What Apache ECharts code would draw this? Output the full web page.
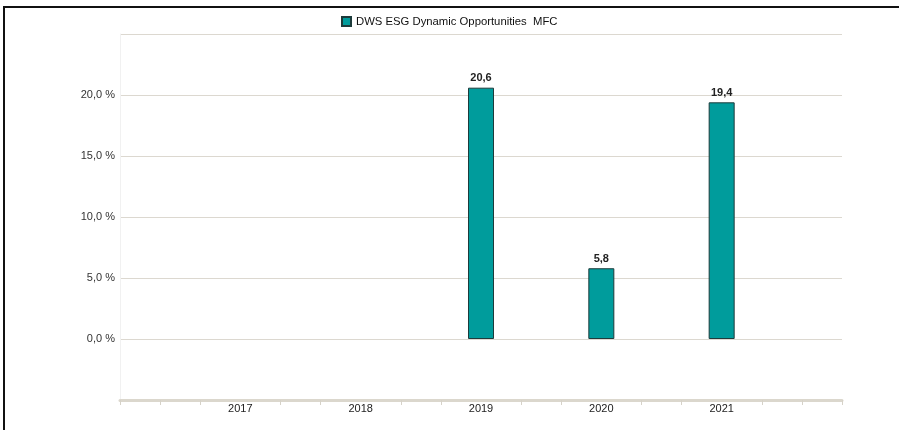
<!DOCTYPE html>
<html>
<head>
<meta charset="utf-8">
<script src="https://cdn.jsdelivr.net/npm/echarts@6/dist/echarts.min.js"></script>
<style>
html,body{margin:0;padding:0;background:#fff;}
#wrap{position:absolute;left:3px;top:6px;width:896px;height:424px;box-sizing:border-box;border-top:2px solid #111;border-left:2px solid #111;}
#chart{position:absolute;left:0;top:0;width:899px;height:430px;}
</style>
</head>
<body>
<div id="chart"></div>
<div id="wrap"></div>
<script>
const seriesName = 'DWS ESG Dynamic Opportunities  MFC';
const years = [2017, 2018, 2019, 2020, 2021];
const values = [null, null, 20.6, 5.8, 19.4];
const yTickLabels = [0, 5, 10, 15, 20];

const xMin = years[0] - 1, xMax = years[years.length - 1] + 1;
const minorTicks = [];
for (let y = xMin; y < xMax; y++) {
  for (let k = 0; k < 3; k++) {
    const v = y + k / 3;
    if (k === 0 && years.indexOf(y) >= 0) continue;
    minorTicks.push(v);
  }
}
minorTicks.push(xMax);

const chart = echarts.init(document.getElementById('chart'));
const fmt = v => v.toFixed(1).replace('.', ',');
chart.setOption({
  animation: false,
  textStyle: { fontFamily: 'Liberation Sans, Arial, sans-serif' },
  legend: {
    top: 11, left: 336,
    itemWidth: 9, itemHeight: 9, itemGap: 5,
    icon: 'rect',
    textStyle: { fontSize: 11.3, color: '#111', fontFamily: 'Liberation Sans, Arial, sans-serif' },
    data: [seriesName]
  },
  grid: { left: 120, right: 57, top: 34, bottom: 30, containLabel: false },
  xAxis: {
    type: 'value', min: xMin, max: xMax, interval: 1,
    splitLine: { show: false },
    axisLine: { show: true, onZero: false, lineStyle: { color: '#dbd7cd', width: 3 } },
    axisTick: { show: true, customValues: minorTicks, length: 5, lineStyle: { color: '#d6d2c8', width: 1 } },
    axisLabel: {
      customValues: years,
      formatter: v => String(Math.round(v)),
      fontSize: 11, color: '#222', margin: 3
    }
  },
  yAxis: {
    type: 'value', min: -5, max: 25, interval: 5,
    axisLine: { show: true, lineStyle: { color: '#f1f1f1', width: 1 } },
    axisTick: { show: false },
    splitLine: { show: true, lineStyle: { color: '#dcd8d0', width: 1 } },
    axisLabel: {
      customValues: yTickLabels,
      formatter: v => fmt(v) + ' %',
      fontSize: 11, color: '#333', margin: 5
    }
  },
  series: [{
    name: seriesName,
    type: 'bar',
    barWidth: 26,
    data: years.map((y, i) => [y, values[i]]),
    itemStyle: { color: '#009c9c', borderColor: '#1d3b3b', borderWidth: 1 },
    label: {
      show: true, position: 'top', distance: 4,
      formatter: p => fmt(p.value[1]),
      fontSize: 11, fontWeight: 'bold', color: '#222'
    }
  }]
});
</script>
</body>
</html>
